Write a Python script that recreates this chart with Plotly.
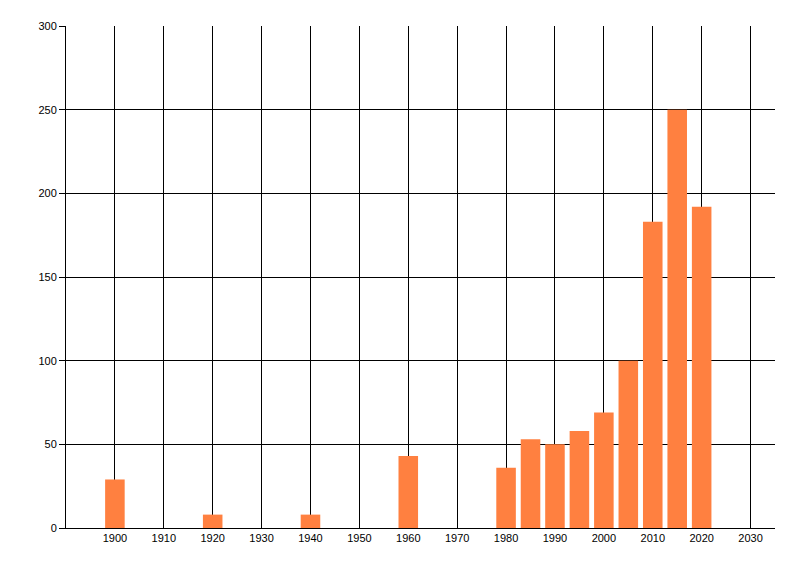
import plotly.graph_objects as go

# bar data
years = [1900, 1920, 1940, 1960, 1980, 1985, 1990, 1995, 2000, 2005, 2010, 2015, 2020]
counts = [29, 8, 8, 43, 36, 53, 50, 58, 69, 100, 183, 250, 192]

x_ticks = list(range(1900, 2031, 10))
y_ticks = [0, 50, 100, 150, 200, 250, 300]

fig = go.Figure()

fig.add_trace(go.Bar(
    x=years,
    y=counts,
    width=4,
    marker_color="#FF8040",
    marker_line_width=0,
    hoverinfo="skip",
))

# the page body adds 8px, so the margins are 8px smaller on the left/top
fig.update_layout(
    width=800,
    height=576,
    margin=dict(l=58, r=33, t=18, b=56),
    paper_bgcolor="white",
    plot_bgcolor="white",
    showlegend=False,
    font=dict(family="Liberation Sans, Arial, sans-serif", size=11, color="black"),
)

fig.update_xaxes(
    range=[1890, 2035],
    tickvals=x_ticks,
    ticktext=[str(v) for v in x_ticks],
    showgrid=True,
    gridcolor="black",
    gridwidth=1,
    showline=True,
    linecolor="black",
    linewidth=1,
    ticks="",
    zeroline=False,
)

fig.update_yaxes(
    range=[0, 300],
    tickvals=y_ticks,
    showgrid=True,
    gridcolor="black",
    gridwidth=1,
    showline=True,
    linecolor="black",
    linewidth=1,
    ticks="outside",
    ticklen=6,
    tickcolor="black",
    zeroline=False,
)

fig.write_html("out.html")
